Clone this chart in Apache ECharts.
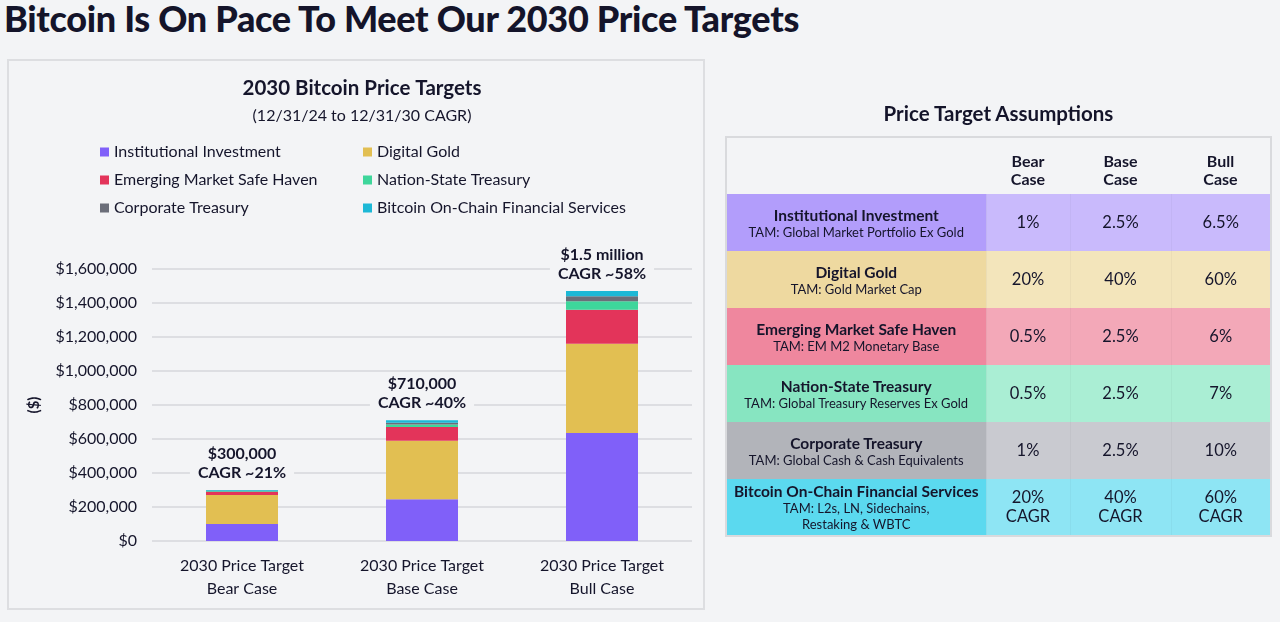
<!DOCTYPE html>
<html>
<head>
<meta charset="utf-8">
<script src="https://cdn.jsdelivr.net/npm/echarts@6/dist/echarts.min.js"></script>
<style>
  html, body { margin:0; padding:0; width:1280px; height:622px; background:#f3f4f6; overflow:hidden; font-family:Lato, "Open Sans", sans-serif; color:#15152b; }
  #pageTitle { position:absolute; left:4px; top:-4px; font-size:36px; font-weight:900; color:#14142a; white-space:nowrap; letter-spacing:-0.3px; }
  #panel { position:absolute; left:7px; top:59px; width:698px; height:551px; border:2px solid #dddee1; box-sizing:border-box; }
  #chart { position:absolute; left:0; top:0; width:1280px; height:622px; }
  #tblTitle { position:absolute; left:725px; width:547px; top:101px; text-align:center; font-size:20.5px; font-weight:700; color:#14142a; }
  #tbl { position:absolute; left:725px; top:136px; width:547px; height:399px; border:2px solid #d9dadd; box-sizing:border-box; border-collapse:collapse; table-layout:fixed; }
  #tbl td { padding:0; text-align:center; vertical-align:middle; color:#15152b; }
  #tbl tr { height:57px; }
  #tbl .hdr td { font-weight:700; font-size:16px; line-height:18px; padding-top:8px; }
  .nm { font-weight:700; font-size:15.5px; line-height:18px; }
  .tam { font-size:13px; line-height:16px; }
  .val { font-size:16.5px; line-height:19px; }
</style>
</head>
<body>
<div id="pageTitle">Bitcoin Is On Pace To Meet Our 2030 Price Targets</div>
<div id="panel"></div>
<div id="chart"></div>
<div id="tblTitle">Price Target Assumptions</div>
<table id="tbl"></table>
<script>
// ---------- chart data ----------
var categories = ['2030 Price Target\nBear Case', '2030 Price Target\nBase Case', '2030 Price Target\nBull Case'];
var seriesNames = ['Institutional Investment', 'Digital Gold', 'Emerging Market Safe Haven', 'Nation-State Treasury', 'Corporate Treasury', 'Bitcoin On-Chain Financial Services'];
var institutional = [100000, 245000, 635000];
var digitalGold   = [170000, 345000, 525000];
var emergingMkt   = [18000, 80000, 200000];
var nationState   = [4000, 15000, 50000];
var corporate     = [3000, 10000, 30000];
var onChain       = [5000, 15000, 30000];
var totalLabels = ['$300,000', '$710,000', '$1.5 million'];
var cagrLabels  = ['CAGR ~21%', 'CAGR ~40%', 'CAGR ~58%'];
var yMin = 0, yMax = 1600000, yStep = 200000;

// ---------- table data ----------
var caseHeaders = ['Bear\nCase', 'Base\nCase', 'Bull\nCase'];
var assumptionNames = ['Institutional Investment', 'Digital Gold', 'Emerging Market Safe Haven', 'Nation-State Treasury', 'Corporate Treasury', 'Bitcoin On-Chain Financial Services'];
var tamLabels = ['TAM: Global Market Portfolio Ex Gold', 'TAM: Gold Market Cap', 'TAM: EM M2 Monetary Base', 'TAM: Global Treasury Reserves Ex Gold', 'TAM: Global Cash & Cash Equivalents', 'TAM: L2s, LN, Sidechains,\nRestaking & WBTC'];
var bearVals = ['1%', '20%', '0.5%', '0.5%', '1%', '20%\nCAGR'];
var baseVals = ['2.5%', '40%', '2.5%', '2.5%', '2.5%', '40%\nCAGR'];
var bullVals = ['6.5%', '60%', '6%', '7%', '10%', '60%\nCAGR'];

// ---------- styles ----------
var barColors = ['#8060f9', '#e2bf52', '#e3345a', '#3ed69b', '#6b6e79', '#1db8d6'];
var nameCellColors = ['#b29dfb', '#eed9a0', '#ef879e', '#87e5c1', '#b2b4ba', '#5bd9ef'];
var valCellColors  = ['#c9bafc', '#f3e5bb', '#f3a8b8', '#aaeed4', '#c9cad0', '#8ee5f4'];

// build table
(function(){
  var tbl = document.getElementById('tbl');
  function esc(s){ return s.replace(/&/g,'&amp;').replace(/\n/g,'<br>'); }
  var html = '<colgroup><col style="width:260px"><col style="width:84px"><col style="width:101px"><col></colgroup>';
  html += '<tr class="hdr"><td></td>';
  caseHeaders.forEach(function(h){ html += '<td>' + esc(h) + '</td>'; });
  html += '</tr>';
  assumptionNames.forEach(function(n, i){
    var vc = valCellColors[i];
    html += '<tr style="background:' + vc + '">';
    html += '<td style="background:' + nameCellColors[i] + '"><div class="nm">' + esc(n) + '</div><div class="tam">' + esc(tamLabels[i]) + '</div></td>';
    [bearVals[i], baseVals[i], bullVals[i]].forEach(function(v, j){
      html += '<td class="val" style="border-left:1px solid rgba(0,0,0,0.03)">' + esc(v) + '</td>';
    });
    html += '</tr>';
  });
  tbl.innerHTML = html;
})();

var chart = echarts.init(document.getElementById('chart'), null, {renderer:'canvas'});
var seriesData = [institutional, digitalGold, emergingMkt, nationState, corporate, onChain];
var series = seriesNames.map(function(name, i){
  var s = {
    name: name, type: 'bar', stack: 'total', barWidth: 72,
    data: seriesData[i], itemStyle: { color: barColors[i] },
    emphasis: { disabled: true }
  };
  if (i === seriesNames.length - 1) {
    s.label = {
      show: true, position: 'top', distance: 8,
      formatter: function(p){ return totalLabels[p.dataIndex] + '\n' + cagrLabels[p.dataIndex]; },
      fontFamily: 'Lato', fontWeight: 'bold', fontSize: 16, lineHeight: 19, color: '#15152b',
      backgroundColor: '#f3f4f6', padding: [0, 8, 0, 8], align: 'center'
    };
  }
  return s;
});

var legendText = { fontFamily: 'Lato', fontSize: 16, color: '#15152b', lineHeight: 16 };
chart.setOption({
  animation: false,
  backgroundColor: 'transparent',
  title: {
    text: '2030 Bitcoin Price Targets',
    subtext: '(12/31/24 to 12/31/30 CAGR)',
    left: 357, top: 73, textAlign: 'center', itemGap: 9,
    textStyle: { fontFamily: 'Lato', fontWeight: 'bold', fontSize: 20.5, color: '#15152b' },
    subtextStyle: { fontFamily: 'Lato', fontSize: 16, color: '#15152b' }
  },
  legend: [
    { data: [seriesNames[0], seriesNames[2], seriesNames[4]], orient: 'vertical', left: 95, top: 139,
      itemWidth: 9, itemHeight: 9, itemGap: 12, icon: 'rect', textStyle: legendText, selectedMode: false },
    { data: [seriesNames[1], seriesNames[3], seriesNames[5]], orient: 'vertical', left: 358, top: 139,
      itemWidth: 9, itemHeight: 9, itemGap: 12, icon: 'rect', textStyle: legendText, selectedMode: false }
  ],
  grid: { left: 152, right: 588, top: 269, bottom: 81, containLabel: false },
  xAxis: {
    type: 'category', data: categories,
    axisLine: { show: false }, axisTick: { show: false },
    axisLabel: { fontFamily: 'Lato', fontSize: 16, lineHeight: 23, color: '#15152b', margin: 13 }
  },
  yAxis: {
    type: 'value', min: yMin, max: yMax, interval: yStep,
    name: '($)', nameLocation: 'middle', nameGap: 110, nameRotate: 90,
    nameTextStyle: { fontFamily: 'Lato', fontWeight: 'bold', fontSize: 15, color: '#15152b' },
    axisLabel: { fontFamily: 'Lato', fontSize: 16, color: '#15152b', margin: 15,
      formatter: function(v){ return '$' + v.toLocaleString('en-US'); } },
    splitLine: { lineStyle: { color: '#d6d7db', width: 1.5 } },
    axisLine: { show: false }, axisTick: { show: false }
  },
  series: series
});
</script>
</body>
</html>
